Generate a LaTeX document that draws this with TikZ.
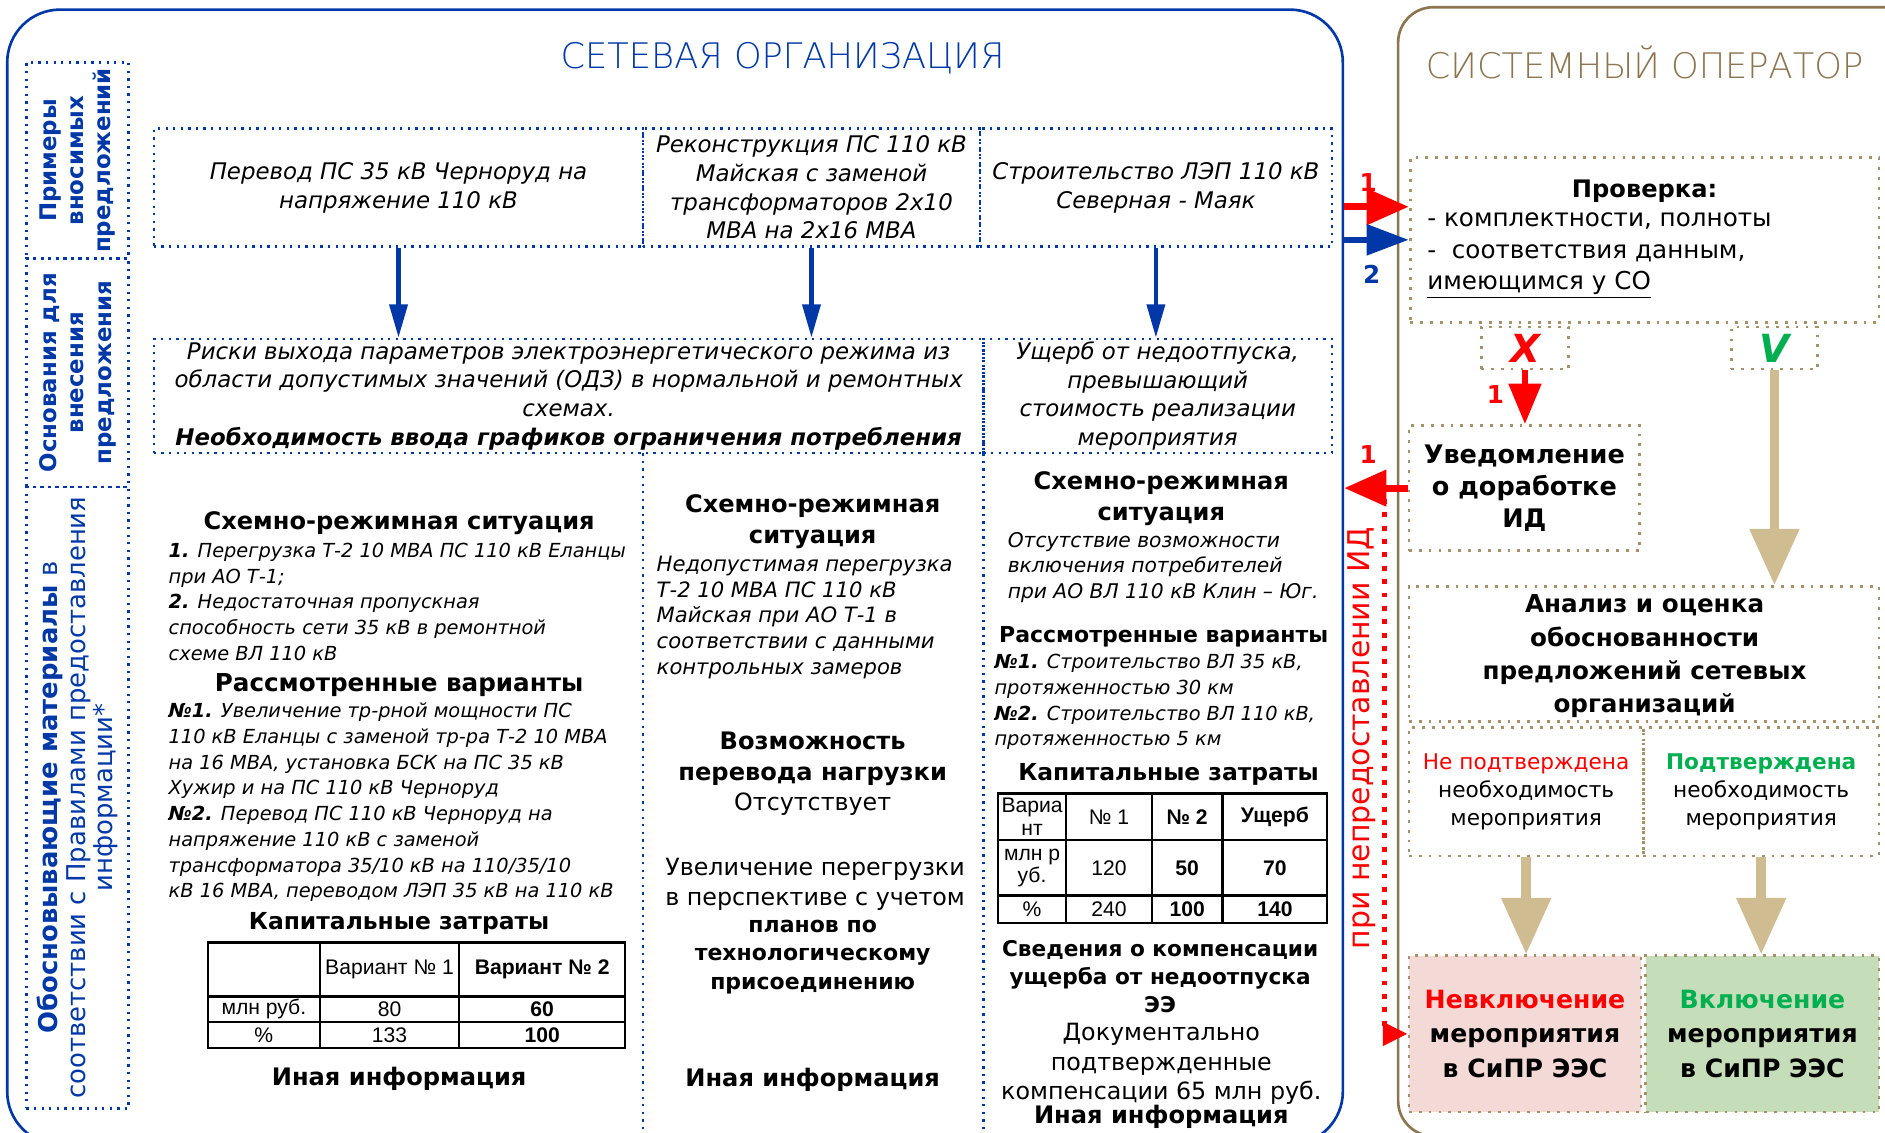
\documentclass[tikz,border=0pt]{standalone}
\usepackage{fontspec}
\setmainfont{DejaVu Sans}
\newfontfamily\tabfont{Liberation Sans}
\newfontfamily\thinfont{DejaVu Sans ExtraLight}
\usetikzlibrary{arrows.meta,fit}

\definecolor{netblue}{RGB}{0,56,168}
\definecolor{sobrown}{RGB}{140,117,80}
\definecolor{dotbrown}{RGB}{168,145,105}
\definecolor{arrowtan}{RGB}{207,188,145}
\definecolor{okgreen}{RGB}{0,176,80}
\definecolor{nopink}{RGB}{244,218,214}
\definecolor{yesgreen}{RGB}{198,221,186}

\newcommand{\fs}[2]{\fontsize{#1}{#2}\selectfont}

\begin{document}
\begin{tikzpicture}[x=0.024cm,y=-0.024cm,
  fitbox/.style={inner sep=0pt},
  dotb/.style={fitbox,draw=netblue,line width=1.3pt,dash pattern=on 1.3pt off 3pt},
  dots/.style={fitbox,draw=dotbrown,line width=1.6pt,dash pattern=on 1.6pt off 4pt},
  txt/.style={inner sep=0pt,align=center},
  hd/.style={txt,font=\bfseries\fs{13.7}{17.5}},
  it/.style={inner sep=0pt,align=left,anchor=west,font=\itshape\fs{11}{14.6}},
  rg/.style={txt,font=\fs{13.5}{16.8}},
  rot/.style={txt,rotate=90,text=netblue},
  lab/.style={inner sep=0pt,font=\bfseries\fs{14}{16}},
  tabline/.style={line width=1.3pt},
  tb/.style={inner sep=0pt,align=center,font=\tabfont\fs{12}{13}},
  barr/.style={draw=netblue,line width=2.7pt,-{Triangle[length=19pt,width=10pt]}},
  barrbig/.style={draw=netblue,line width=3.5pt,-{Triangle[length=24pt,width=17pt]}},
  rarr/.style={draw=red,line width=4pt,-{Triangle[length=24pt,width=20pt]}},
  tarr/.style={draw=arrowtan,line width=5.5pt,-{Triangle[length=32pt,width=27pt]}}]

\useasboundingbox (0,0) rectangle (1568,942);

% frames
\node[fitbox,draw=netblue,line width=1.5pt,rounded corners=30pt,fit={(6,8) (1117,952)}] (org) {};
\node[txt,text=netblue,font=\thinfont\fs{20}{24}] (orgt) at (651,48) {СЕТЕВАЯ ОРГАНИЗАЦИЯ};
\node[fitbox,draw=sobrown,line width=1.5pt,rounded corners=20pt,fit={(1163,6) (1600,945)}] (so) {};
\node[txt,text=sobrown,font=\thinfont\fs{20}{24}] (sot) at (1368,52) {СИСТЕМНЫЙ ОПЕРАТОР};

% left column
\node[dotb,fit={(22,52) (107,215)}] (lc1) {};
\node[dotb,fit={(22,215) (107,405)}] (lc2) {};
\node[dotb,fit={(22,405) (107,922)}] (lc3) {};
\node[rot,font=\bfseries\fs{13}{15.6}] (lt1) at (lc1) {Примеры\\вносимых\\предложений};
\node[rot,font=\bfseries\fs{13}{15.6}] (lt2) at (lc2) {Основания для\\внесения\\предложения};
\node[rot,font=\fs{14.7}{15.6}] (lt3) at (lc3) {\textbf{Обосновывающие материалы} в\\соответствии с Правилами предоставления\\информации*};

% proposals
\node[dotb,fit={(128,107) (535,205)}] (p1) {};
\node[dotb,fit={(535,107) (815,205)}] (p2) {};
\node[dotb,fit={(815,107) (1108,205)}] (p3) {};
\node[txt,font=\itshape\fs{13}{16.3}] (p1t) at (p1) {Перевод ПС 35 кВ Черноруд на\\напряжение 110 кВ};
\node[txt,font=\itshape\fs{13}{16.3}] (p2t) at (p2) {Реконструкция ПС 110 кВ\\Майская с заменой\\трансформаторов 2х10\\МВА на 2х16 МВА};
\node[txt,font=\itshape\fs{13}{16.3}] (p3t) at (p3) {Строительство ЛЭП 110 кВ\\Северная - Маяк};

% grounds
\node[dotb,fit={(128,282) (818,377)}] (r1) {};
\node[dotb,fit={(818,282) (1108,377)}] (r2) {};
\node[txt,font=\itshape\fs{13}{16.3}] (r1t) at (r1) {Риски выхода параметров электроэнергетического режима из\\области допустимых значений (ОДЗ) в нормальной и ремонтных\\схемах.\\\textbf{Необходимость ввода графиков ограничения потребления}};
\node[txt,font=\itshape\fs{13}{16.3}] (r2t) at (r2) {Ущерб от недоотпуска,\\превышающий\\стоимость реализации\\мероприятия};

\draw[barr] (p1.south) -- (p1.south |- r1.north);
\draw[barr] (p2.south) -- (p2.south |- r1.north);
\draw[barr] (p3.south) -- (p3.south |- r2.north);

\draw[dotb] (535,377) -- (535,942);
\draw[dotb] (818,377) -- (818,942);

% column 1
\node[hd] (c1a) at (332,435) {Схемно-режимная ситуация};
\node[it] (c1b) at (140,500.5) {\textbf{1.} Перегрузка Т-2 10 МВА ПС 110 кВ Еланцы\\при АО Т-1;\\\textbf{2.} Недостаточная пропускная\\способность сети 35 кВ в ремонтной\\схеме ВЛ 110 кВ};
\node[hd,font=\bfseries\fs{14}{17.5}] (c1c) at (332,570) {Рассмотренные варианты};
\node[it] (c1d) at (140,667.5) {\textbf{№1.} Увеличение тр-рной мощности ПС\\110 кВ Еланцы с заменой тр-ра Т-2 10 МВА\\на 16 МВА, установка БСК на ПС 35 кВ\\Хужир и на ПС 110 кВ Черноруд\\\textbf{№2.} Перевод ПС 110 кВ Черноруд на\\напряжение 110 кВ с заменой\\трансформатора 35/10 кВ на 110/35/10\\кВ 16 МВА, переводом ЛЭП 35 кВ на 110 кВ};
\node[hd,font=\bfseries\fs{13.3}{17}] (c1e) at (332,768) {Капитальные затраты};
\draw[tabline] (173,784) rectangle (520,872);
\foreach \x in {266,382} \draw[tabline] (\x,784) -- (\x,872);
\foreach \y in {829,850} \draw[tabline] (173,\y) -- (520,\y);
\node[tb] (t1b) at (324,806.5) {Вариант № 1};
\node[tb,font=\tabfont\bfseries\fs{12}{13}] (t1c) at (451,806.5) {Вариант № 2};
\node[tb] (t1d) at (219.5,839.5) {млн руб.};
\node[tb] (t1e) at (324,839.5) {80};
\node[tb,font=\tabfont\bfseries\fs{12}{13}] (t1f) at (451,839.5) {60};
\node[tb] (t1g) at (219.5,861) {\%};
\node[tb] (t1h) at (324,861) {133};
\node[tb,font=\tabfont\bfseries\fs{12}{13}] (t1i) at (451,861) {100};
\node[hd] (c1f) at (332,897) {Иная информация};

% column 2
\node[hd] (c2a) at (676,434) {Схемно-режимная\\ситуация};
\node[it,font=\itshape\fs{12}{14.6}] (c2b) at (546,513.5) {Недопустимая перегрузка\\Т-2 10 МВА ПС 110 кВ\\Майская при АО Т-1 в\\соответствии с данными\\контрольных замеров};
\node[hd] (c2c) at (676,631) {Возможность\\перевода нагрузки};
\node[rg] (c2d) at (676,669) {Отсутствует};
\node[rg] (c2e) at (678,735.5) {Увеличение перегрузки\\в перспективе с учетом};
\node[txt,font=\bfseries\fs{12.5}{16.3}] (c2f) at (676,796) {планов по\\технологическому\\присоединению};
\node[hd] (c2g) at (676,898) {Иная информация};

% column 3
\node[hd] (c3a) at (966,414.5) {Схемно-режимная\\ситуация};
\node[it,font=\itshape\fs{11.5}{14.3}] (c3b) at (838,472) {Отсутствие возможности\\включения потребителей\\при АО ВЛ 110 кВ Клин – Юг.};
\node[hd,font=\bfseries\fs{12.5}{16}] (c3c) at (968,530) {Рассмотренные варианты};
\node[it] (c3d) at (827,584) {\textbf{№1.} Строительство ВЛ 35 кВ,\\протяженностью 30 км\\\textbf{№2.} Строительство ВЛ 110 кВ,\\протяженностью 5 км};
\node[hd,font=\bfseries\fs{13.3}{17}] (c3e) at (972,644) {Капитальные затраты};
\draw[tabline] (830,660) rectangle (1104,768);
\foreach \x in {887,958,1017} \draw[tabline] (\x,660) -- (\x,768);
\foreach \y in {699,745} \draw[tabline] (830,\y) -- (1104,\y);
\node[tb] (t3a) at (858.5,679.5) {Вариа\\нт};
\node[tb] (t3b) at (922.5,679.5) {№ 1};
\node[tb,font=\tabfont\bfseries\fs{12}{13}] (t3c) at (987.5,679.5) {№ 2};
\node[tb,font=\tabfont\bfseries\fs{12}{13}] (t3d) at (1060.5,679.5) {Ущерб};
\node[tb] (t3e) at (858.5,722) {млн р\\уб.};
\node[tb] (t3f) at (922.5,722) {120};
\node[tb,font=\tabfont\bfseries\fs{12}{13}] (t3g) at (987.5,722) {50};
\node[tb,font=\tabfont\bfseries\fs{12}{13}] (t3h) at (1060.5,722) {70};
\node[tb] (t3i) at (858.5,756.5) {\%};
\node[tb] (t3j) at (922.5,756.5) {240};
\node[tb,font=\tabfont\bfseries\fs{12}{13}] (t3k) at (987.5,756.5) {100};
\node[tb,font=\tabfont\bfseries\fs{12}{13}] (t3l) at (1060.5,756.5) {140};
\node[txt,font=\bfseries\fs{12.3}{16}] (c3f) at (965,812.5) {Сведения о компенсации\\ущерба от недоотпуска\\ЭЭ};
\node[rg] (c3g) at (966,885) {Документально\\подтвержденные\\компенсации 65 млн руб.};
\node[hd] (c3h) at (966,929) {Иная информация};

% system operator
\node[dots,fit={(1173,131) (1563,268)}] (chk) {};
\node[hd] (chkh) at (1368,159) {Проверка:};
\node[inner sep=0pt,align=left,anchor=west,font=\fs{14}{18}] (chkt) at (1187,212.5) {- комплектности, полноты\\-\ \ соответствия данным,\\\underline{имеющимся у СО}};

\node[dots,fit={(1232,272) (1305,307)}] (xb) {};
\node[txt,text=red,font=\bfseries\itshape\fs{22}{24}] (xbt) at (xb) {X};
\node[dots,fit={(1440,272) (1512,307)}] (vb) {};
\node[txt,text=okgreen,font=\bfseries\itshape\fs{22}{24}] (vbt) at (vb) {V};

\node[dots,fit={(1172,354) (1364,458)}] (nt) {};
\node[txt,font=\bfseries\fs{14.5}{18.4}] (ntt) at (nt) {Уведомление\\о доработке\\ИД};

\node[dots,fit={(1172,488) (1563,600)}] (an) {};
\node[txt,font=\bfseries\fs{14}{19}] (ant) at (1368,546) {Анализ и оценка\\обоснованности\\предложений сетевых\\организаций};

\node[dots,fit={(1172,605) (1367,712)}] (nc) {};
\node[dots,fit={(1367,605) (1563,712)}] (yc) {};
\node[txt,font=\fs{12.3}{16}] (nct) at (nc) {\textcolor{red}{Не подтверждена}\\необходимость\\мероприятия};
\node[txt,font=\fs{12.3}{16}] (yct) at (yc) {\textcolor{okgreen}{\bfseries Подтверждена}\\необходимость\\мероприятия};

\node[dots,fill=nopink,fit={(1172,795) (1365,925)}] (ninc) {};
\node[dots,fill=yesgreen,fit={(1369,795) (1563,925)}] (inc) {};
\node[txt,font=\bfseries\fs{14.3}{19.7}] (ninct) at (ninc) {\textcolor{red}{Невключение}\\мероприятия\\в СиПР ЭЭС};
\node[txt,font=\bfseries\fs{14.3}{19.7}] (inct) at (inc) {\textcolor{okgreen}{Включение}\\мероприятия\\в СиПР ЭЭС};

% connectors
\coordinate (chkr) at ([yshift=0.66cm]chk.west);
\draw[rarr] (chkr -| org.east) -- (chkr);
\draw[barrbig] (chk.west -| org.east) -- (chk.west);
\node[lab,text=red] (n1a) at (1138,152) {1};
\node[lab,text=netblue] (n2a) at (1141,228) {2};

\draw[rarr,line width=3.4pt,-{Triangle[length=23pt,width=18pt]}] (xb.south) -- (xb.south |- nt.north);
\node[lab,text=red] (n1b) at (1244,328) {1};

\draw[rarr] (nt.west) -- (nt.west -| org.east);
\node[lab,text=red] (n1c) at (1138,378) {1};

\coordinate (nd) at (1152,415);
\draw[red,line width=2.8pt,dash pattern=on 2.8pt off 4.8pt,-{Triangle[length=14pt,width=13pt]}] (nd) |- (ninc.west);
\node[txt,rotate=90,text=red,font=\fs{17}{20}] (ndt) at (1133,614) {при непредоставлении ИД};

\draw[tarr] (vb.south) -- (vb.south |- an.north);
\draw[tarr] (nc.south) -- (nc.south |- ninc.north);
\draw[tarr] (yc.south) -- (yc.south |- inc.north);

\end{tikzpicture}
\end{document}
